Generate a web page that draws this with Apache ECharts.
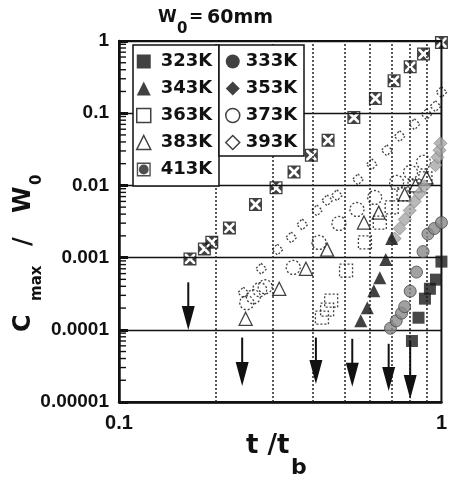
<!DOCTYPE html>
<html><head><meta charset="utf-8">
<script src="https://cdn.jsdelivr.net/npm/echarts@6/dist/echarts.min.js"></script>
<style>html,body{margin:0;padding:0;background:#fff}#c{width:450px;height:484px}</style>
</head><body><div id="c"></div>
<script>
// ---- axis ticks / labels ----
const xTickLabels = ['0.1', '1'];
const yTickLabels = ['1', '0.1', '0.01', '0.001', '0.0001', '0.00001'];
const minorGridX = [0.2, 0.3, 0.4, 0.5, 0.6, 0.7, 0.8, 0.9];
const decades = [1e-5, 1e-4, 1e-3, 1e-2, 1e-1];
const minorMultipliers = [2, 3, 4, 5, 6, 7, 8, 9];

// ---- series data (t/tb, Cmax/W0) ----
const x323 = [0.81, 0.849, 0.889, 0.921, 0.962, 1.0];
const y323 = [7.0e-5, 1.47e-4, 2.7e-4, 3.7e-4, 4.95e-4, 8.8e-4];

const x333 = [0.695, 0.724, 0.752, 0.769, 0.80, 0.837, 0.877, 0.908, 0.951, 1.0];
const y333 = [1.05e-4, 1.33e-4, 1.7e-4, 2.09e-4, 3.43e-4, 6.3e-4, 1.21e-3, 2.12e-3, 2.53e-3, 3.06e-3];

const x343 = [0.562, 0.589, 0.617, 0.644, 0.672, 0.701];
const y343 = [1.33e-4, 2.02e-4, 3.48e-4, 5.27e-4, 9.38e-4, 1.84e-3];

const x353 = [0.716, 0.742, 0.769, 0.797, 0.826, 0.855, 0.886, 0.958, 0.972, 0.986, 0.993];
const y353 = [1.84e-3, 2.53e-3, 3.37e-3, 4.5e-3, 6.0e-3, 7.7e-3, 9.7e-3, 0.019, 0.0245, 0.0306, 0.0383];

const x363 = [0.426, 0.442, 0.455, 0.506, 0.579, 0.644, 0.701, 0.763, 0.825, 0.892];
const y363 = [1.47e-4, 1.9e-4, 2.53e-4, 6.6e-4, 1.62e-3, 3.06e-3, 4.95e-3, 7.5e-3, 9.7e-3, 0.0125];

const x373 = [0.249, 0.261, 0.273, 0.284, 0.347, 0.417, 0.481, 0.547, 0.621, 0.726, 0.802, 0.88];
const y373 = [2.37e-4, 2.87e-4, 3.6e-4, 3.95e-4, 7.3e-4, 1.62e-3, 2.97e-3, 4.64e-3, 6.8e-3, 0.011, 0.0152, 0.0209];

const x383 = [0.247, 0.314, 0.38, 0.442, 0.575, 0.639, 0.769, 0.831, 0.899];
const y383 = [1.42e-4, 3.7e-4, 7.0e-4, 1.29e-3, 3.06e-3, 4.2e-3, 7.5e-3, 0.01, 0.0129];

const x393 = [0.243, 0.276, 0.31, 0.342, 0.37, 0.411, 0.442, 0.474, 0.551, 0.608, 0.677, 0.742, 0.825, 0.899, 0.958, 1.0];
const y393 = [3.27e-4, 7.0e-4, 1.29e-3, 1.9e-3, 2.87e-3, 4.5e-3, 6.2e-3, 7.3e-3, 0.0121, 0.0196, 0.0306, 0.048, 0.0703, 0.0969, 0.125, 0.196];

const x413 = [0.166, 0.184, 0.194, 0.220, 0.265, 0.307, 0.349, 0.395, 0.445, 0.535, 0.624, 0.713, 0.80, 0.88, 1.0];
const y413 = [0.00096, 0.00132, 0.00163, 0.00258, 0.00545, 0.0093, 0.0153, 0.0261, 0.0422, 0.087, 0.16, 0.281, 0.44, 0.66, 0.95];

// ---- arrows (x, top, bottom) ----
const arrowX = [0.164, 0.241, 0.408, 0.529, 0.686, 0.80];
const arrowTop = [4.54e-4, 7.8e-5, 7.8e-5, 7.5e-5, 6.4e-5, 7.0e-5];
const arrowBottom = [9.9e-5, 1.67e-5, 1.78e-5, 1.63e-5, 1.42e-5, 1.1e-5];

const legendLeft = ['323K', '343K', '363K', '383K', '413K'];
const legendRight = ['333K', '353K', '373K', '393K'];

// ---- build ----
const XSQ = 'path://M0,0H20V2H0Z M0,18H20V20H0Z M0,0H2V20H0Z M18,0H20V20H18Z M5,2H15L10,7Z M18,5V15L13,10Z M5,18H15L10,13Z M2,5V15L7,10Z';
const SQC = 'path://M0,0H20V2H0Z M0,18H20V20H0Z M0,0H2V20H0Z M18,0H20V20H18Z M10,3A7,7,0,1,1,9.99,3Z';
const pair = (xs, ys) => xs.map((x, i) => [x, ys[i]]);
const dash = [2, 2];
function sc(name, xs, ys, symbol, size, itemStyle, z) {
  return { type: 'scatter', name, data: pair(xs, ys), symbol, symbolSize: size,
           itemStyle, z: z || 3, animation: false, silent: true };
}
const openStyle = { color: 'rgba(255,255,255,0)', borderColor: '#111', borderWidth: 1.3, borderType: dash };
const minorTickValues = [];
decades.forEach(d => minorMultipliers.forEach(m => minorTickValues.push(d * m)));

const series = [
  sc('413K', x413, y413, XSQ, 13, { color: '#111' }, 4),
  sc('323K', x323, y323, 'rect', 12, { color: '#1a1a1a' }, 4),
  sc('333K', x333, y333, 'circle', 12, { color: '#8a8a8a', borderColor: '#4a4a4a', borderWidth: 1 }, 3),
  sc('343K', x343, y343, 'triangle', 13, { color: '#111' }, 4),
  sc('353K', x353, y353, 'diamond', 13, { color: '#a8a8a8', borderColor: '#777', borderWidth: 0.8 }, 3),
  sc('363K', x363, y363, 'rect', 13, openStyle, 2),
  sc('373K', x373, y373, 'circle', 14, openStyle, 2),
  sc('383K', x383, y383, 'triangle', 13, Object.assign({}, openStyle, { borderType: 'solid' }), 2),
  sc('393K', x393, y393, 'diamond', 11, openStyle, 2),
  {
    type: 'custom', name: 'arrows', silent: true, animation: false, z: 5,
    data: arrowX.map((x, i) => [x, arrowTop[i], arrowBottom[i]]),
    encode: { x: 0, y: [1, 2] },
    renderItem: function (params, api) {
      const p1 = api.coord([api.value(0), api.value(1)]);
      const p2 = api.coord([api.value(0), api.value(2)]);
      const hl = 24, hw = 6.5;
      return { type: 'group', children: [
        { type: 'line', shape: { x1: p1[0], y1: p1[1], x2: p2[0], y2: p2[1] - hl + 2 }, style: { stroke: '#111', lineWidth: 2 } },
        { type: 'polygon', shape: { points: [[p2[0] - hw, p2[1] - hl], [p2[0] + hw, p2[1] - hl], [p2[0], p2[1]]] }, style: { fill: '#111' } }
      ]};
    },
    markLine: {
      silent: true, symbol: 'none', animation: false, z: 1,
      label: { show: false },
      lineStyle: { type: [2, 2], color: '#222', width: 1.5 },
      data: minorGridX.map(v => ({ xAxis: v }))
    }
  },
  {
    type: 'custom', name: 'minorTicks', silent: true, animation: false, z: 6,
    data: [[0.5, 0.001]], encode: { x: 0, y: 1 },
    renderItem: function (params, api) {
      const children = minorTickValues.map(v => {
        const p = api.coord([0.1, v]);
        return { type: 'rect', shape: { x: p[0], y: p[1] - 0.7, width: 7, height: 1.4 }, style: { fill: '#111' } };
      });
      return { type: 'group', children: children };
    }
  }
];

const solidLegend = { color: '#fff', borderColor: '#111', borderWidth: 1.5, borderType: 'solid' };
const legendIcons = {
  '323K': { icon: 'rect', itemStyle: { color: '#111' } },
  '343K': { icon: 'triangle', itemStyle: { color: '#111' } },
  '363K': { icon: 'rect', itemStyle: solidLegend },
  '383K': { icon: 'triangle', itemStyle: solidLegend },
  '413K': { icon: SQC, itemStyle: { color: '#222' } },
  '333K': { icon: 'circle', itemStyle: { color: '#111', borderWidth: 0 } },
  '353K': { icon: 'diamond', itemStyle: { color: '#111', borderWidth: 0 } },
  '373K': { icon: 'circle', itemStyle: solidLegend },
  '393K': { icon: 'diamond', itemStyle: solidLegend }
};
function mkLegend(names, left, pad) {
  return {
    orient: 'vertical', left: left, top: 48, padding: 0, itemGap: 0,
    itemWidth: 14, itemHeight: 14, selectedMode: false, z: 10,
    textStyle: { fontFamily: 'DejaVu Sans', fontWeight: 'bold', fontSize: 18, color: '#111', lineHeight: 27, padding: [0, 0, 0, pad] },
    data: names.map(n => Object.assign({ name: n }, legendIcons[n]))
  };
}

const bold = 'bold';
const option = {
  backgroundColor: '#fff',
  animation: false,
  grid: { left: 119, right: 7, top: 41, bottom: 82, show: true, borderColor: '#111', borderWidth: 2 },
  xAxis: {
    type: 'log', logBase: 10, min: 0.1, max: 1,
    axisLine: { show: true, onZero: false, lineStyle: { color: '#111', width: 2.5 } },
    axisTick: { show: false }, splitLine: { show: false },
    axisLabel: { margin: 11, fontFamily: 'Liberation Sans', fontWeight: bold, fontSize: 20, color: '#111',
      formatter: v => xTickLabels[Math.round(Math.log10(v) + 1)] }
  },
  yAxis: {
    type: 'log', logBase: 10, min: 1e-5, max: 1,
    axisLine: { show: true, onZero: false, lineStyle: { color: '#111', width: 2.5 } },
    axisTick: { show: true, inside: true, length: 9, lineStyle: { color: '#111', width: 3 } },
    splitLine: { show: true, lineStyle: { color: '#111', width: 1.3 } },
    axisLabel: { margin: 10, fontFamily: 'Liberation Sans', fontWeight: bold, fontSize: 19, color: '#111',
      formatter: v => yTickLabels[Math.round(-Math.log10(v))] }
  },
  legend: [mkLegend(legendLeft, 136, 5), mkLegend(legendRight, 225, 1)],
  graphic: [
    { type: 'rect', z: 8, shape: { x: 133, y: 45, width: 86, height: 141 }, style: { fill: '#fff', stroke: '#111', lineWidth: 1.5 } },
    { type: 'rect', z: 8, shape: { x: 219, y: 45, width: 85, height: 111 }, style: { fill: '#fff', stroke: '#111', lineWidth: 1.5 } },
    // top title
    { type: 'text', z: 10, x: 158, y: 18, style: { text: 'W', fontFamily: 'DejaVu Sans', fontWeight: bold, fontSize: 17, fill: '#111', verticalAlign: 'middle' } },
    { type: 'text', z: 10, x: 177, y: 29, style: { text: '0', fontFamily: 'DejaVu Sans', fontWeight: bold, fontSize: 15, fill: '#111', verticalAlign: 'middle' } },
    { type: 'text', z: 10, x: 189, y: 18, style: { text: '=', fontFamily: 'DejaVu Sans', fontWeight: bold, fontSize: 17, fill: '#111', verticalAlign: 'middle' } },
    { type: 'text', z: 10, x: 207, y: 18, style: { text: '60mm', fontFamily: 'DejaVu Sans', fontWeight: bold, fontSize: 19, fill: '#111', verticalAlign: 'middle' } },
    // x title
    { type: 'text', z: 10, x: 246, y: 446, style: { text: 't /t', fontFamily: 'DejaVu Sans', fontWeight: bold, fontSize: 26, fill: '#111', verticalAlign: 'middle' } },
    { type: 'text', z: 10, x: 291, y: 468, style: { text: 'b', fontFamily: 'DejaVu Sans', fontWeight: bold, fontSize: 22, fill: '#111', verticalAlign: 'middle' } },
    // y title (rotated)
    { type: 'group', x: 33, y: 332, rotation: Math.PI / 2, children: [
      { type: 'text', x: 0, y: -9, style: { text: 'C', fontFamily: 'DejaVu Sans', fontWeight: bold, fontSize: 24, fill: '#111', verticalAlign: 'middle' } },
      { type: 'text', x: 31, y: 4, style: { text: 'max', fontFamily: 'DejaVu Sans', fontWeight: bold, fontSize: 15, fill: '#111', verticalAlign: 'middle' } },
      { type: 'text', x: 86, y: -9, style: { text: '/', fontFamily: 'DejaVu Sans', fontWeight: bold, fontSize: 24, fill: '#111', verticalAlign: 'middle' } },
      { type: 'text', x: 119, y: -9, style: { text: 'W', fontFamily: 'DejaVu Sans', fontWeight: bold, fontSize: 24, fill: '#111', verticalAlign: 'middle' } },
      { type: 'text', x: 147, y: 4, style: { text: '0', fontFamily: 'DejaVu Sans', fontWeight: bold, fontSize: 15, fill: '#111', verticalAlign: 'middle' } }
    ]}
  ],
  series: series
};
const chart = echarts.init(document.getElementById('c'), null, { renderer: 'canvas' });
chart.setOption(option);
</script>
</body></html>
